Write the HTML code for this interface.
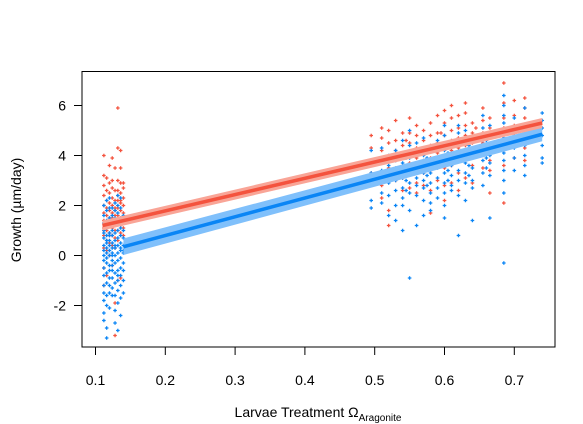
<!DOCTYPE html>
<html><head><meta charset="utf-8"><style>
html,body{margin:0;padding:0;background:#fff;}
svg{display:block;font-family:"Liberation Sans",Arial,sans-serif;}
</style></head><body>
<svg id="chart" width="583" height="424" viewBox="0 0 583 424" xmlns="http://www.w3.org/2000/svg">
<rect x="0" y="0" width="583" height="424" fill="#fff"/>
<g id="pts"></g>
<g id="fits"></g>
<rect x="82" y="71.5" width="473" height="275.5" fill="none" stroke="#000" stroke-width="1"/>
<g id="axes"></g>
<text x="318" y="417" font-size="14" text-anchor="middle">Larvae Treatment Ω<tspan font-size="10" dy="4">Aragonite</tspan></text>
<text transform="translate(21,210) rotate(-90)" font-size="14" text-anchor="middle">Growth (µm/day)</text>
</svg>
<script>
const xTicks=[0.1,0.2,0.3,0.4,0.5,0.6,0.7];
const xTickLabels=["0.1","0.2","0.3","0.4","0.5","0.6","0.7"];
const yTicks=[-2,0,2,4,6];
const yTickLabels=["-2","0","2","4","6"];
const blueX=[0.112,0.116,0.12,0.124,0.128,0.132,0.136,0.14,0.495,0.51,0.52,0.53,0.54,0.55,0.56,0.57,0.58,0.59,0.6,0.61,0.62,0.63,0.64,0.655,0.665,0.685,0.70,0.715,0.74,0.545,0.575,0.605,0.635,0.66];
const blueY=[[-2.6,-2.3,-1.8,-1.2,-0.8,-0.5,-0.2,0,0.2,0.4,0.7,1,1.3,1.6,2.0,-1.5,0.9],[-3.3,-2.9,-2.0,-1.6,-1.1,-0.7,-0.3,0.1,0.3,0.5,0.8,1.1,1.4,1.8,2.2,-0.1,0.6],[-2.1,-1.5,-1.2,-0.9,-0.4,0,0.2,0.4,0.6,0.9,1.2,1.5,1.9,2.3,-0.6,0.8],[-1.6,-1.3,-0.9,-0.6,-0.2,0.1,0.3,0.5,0.8,1.0,1.3,1.6,1.9,0.0,-0.4],[-2.7,-2.2,-1.6,-1.1,-0.7,-0.3,0,0.3,0.6,0.9,1.2,1.5,1.8,2.1,0.4],[-3.0,-1.9,-1.4,-1.0,-0.6,-0.2,0.1,0.4,0.7,1.0,1.3,1.7,2.0,2.4,-0.8],[-2.4,-1.7,-1.2,-0.8,-0.5,-0.1,0.2,0.5,0.8,1.1,1.5,1.9,2.3,0.3],[-1.5,-1.0,-0.6,-0.3,0.1,0.4,0.7,1.0,1.3,1.6,0.2],
[2.2,2.8,3.3,3.7,4.2,1.9],[2.5,3.0,3.4,3.9,4.3,2.1],[1.6,2.4,2.9,3.3,3.6,4.0],[2.0,2.6,3.0,3.2,3.5,3.8,4.2,1.4],[1.0,2.3,2.7,3.1,3.4,3.7,4.6,2.0],[-0.9,1.8,2.5,2.9,3.3,3.6,3.9,4.4,5.0],[1.2,2.4,2.8,3.1,3.4,3.7,4.1,4.5],[1.6,2.2,2.7,3.0,3.3,3.6,4.0,4.7],[2.1,2.5,2.9,3.3,3.7,4.2,1.8],[2.3,2.7,3.1,3.5,3.9,4.3,4.6],[1.5,2.0,2.5,2.9,3.3,3.6,3.9,4.2,4.8,5.2],[2.8,3.2,3.6,4.0,4.4,2.6],[0.8,2.4,3.0,3.4,3.8,4.1,4.5,4.9,5.2],[2.2,2.9,3.3,3.7,4.1,4.5,5.0],[1.4,3.0,3.5,3.9,4.3,4.7,2.7],[2.8,3.3,3.8,4.2,4.6,5.1,5.6],[3.2,3.7,4.0,4.4,4.8,5.2,1.5],[-0.3,2.5,3.0,3.4,3.8,4.1,4.4,4.7,5.0,5.3,5.6,6.0,6.4],[3.4,3.9,4.3,4.7,5.1,5.5],[3.6,4.0,4.4,4.8,5.2,5.9,3.2],[3.7,3.9,4.4,4.8,5.1,5.4,5.7],
[2.6,3.0,3.5,3.9],[2.8,3.2,3.5,3.9],[3.0,3.4,3.8,4.1],[3.2,3.6,4.0,4.4],[3.5,3.9,4.3,4.6]];
const redX=[0.112,0.116,0.12,0.124,0.128,0.132,0.136,0.14,0.495,0.51,0.52,0.53,0.54,0.55,0.56,0.57,0.58,0.59,0.6,0.61,0.62,0.63,0.64,0.655,0.665,0.685,0.70,0.715,0.545,0.595,0.645];
const redY=[[-1.2,-0.5,0.3,0.8,1.1,1.4,1.7,2.0,2.4,2.8,3.2,4.0,1.0],[-0.8,0.2,0.6,1.0,1.3,1.6,1.9,2.2,2.6,3.1,1.2],[0.0,0.5,0.9,1.2,1.5,1.8,2.1,2.5,2.9,3.6,0.8],[-0.4,0.4,0.8,1.1,1.4,1.7,2.0,2.3,2.7,3.0,3.9,1.5],[-1.9,0.3,0.7,1.0,1.3,1.6,1.9,2.2,2.6,3.5,-3.2,1.8],[5.9,4.3,3.0,2.6,2.2,1.9,1.6,1.3,1.0,0.6,-1.0,2.4],[3.5,2.9,2.5,2.1,1.8,1.5,1.2,0.9,-0.9,4.2,2.2],[2.7,2.3,2.0,1.7,1.4,1.1,0.8,2.9],
[3.3,3.8,4.3,4.8,2.9],[3.2,3.7,4.2,4.7,5.1,2.8,2.3],[3.0,3.5,3.9,4.5,5.0,1.8,1.2],[3.4,3.8,4.2,4.6,5.4,3.0],[3.1,3.6,4.0,4.4,4.9,2.6],[2.7,3.3,3.7,4.1,4.5,4.9,5.5],[2.9,3.5,3.9,4.3,4.8,5.2,2.5],[3.3,3.8,4.2,4.6,5.0,2.8],[2.6,3.4,3.9,4.4,4.8,5.3,1.7],[3.0,3.7,4.1,4.5,4.9,5.6],[2.8,3.5,4.0,4.4,4.8,5.3,5.8,2.2],[2.9,3.6,4.2,4.6,5.0,5.5,6.0],[3.3,3.9,4.3,4.7,5.1,5.6,2.6],[3.1,3.8,4.4,4.8,5.2,5.7,6.1],[3.6,4.1,4.5,4.9,5.3,2.9],[3.5,4.0,4.5,4.9,5.4,5.9],[3.8,4.3,4.7,5.1,5.5,3.4,2.5],[2.1,3.6,4.2,4.7,5.1,5.5,6.1,6.9],[3.9,4.4,4.8,5.2,5.6,6.2],[3.8,4.3,4.7,5.1,5.5,5.9,6.3,4.9],
[3.5,4.0,4.6],[3.9,4.3,4.9],[4.2,4.6,5.1]];
const blueFitX=[0.14,0.74];
const blueFitY=[0.35,4.85];
const blueFitSE=[0.33,0.28];
const redFitX=[0.11,0.74];
const redFitY=[1.2,5.3];
const redFitSE=[0.2,0.2];

const NS="http://www.w3.org/2000/svg";
function sx(v){return 95.5+(v-0.1)*698;}
function sy(v){return 255.5-v*25;}
function mk(tag,attrs,parent){const e=document.createElementNS(NS,tag);for(const k in attrs)e.setAttribute(k,attrs[k]);parent.appendChild(e);return e;}
const pts=document.getElementById('pts'),fits=document.getElementById('fits'),axes=document.getElementById('axes');
function drawPts(xs,ys,color,name){
  xs.forEach((x,i)=>{ys[i].forEach(y=>{
    const px=sx(x),py=sy(y);
    const p=mk('path',{d:`M${px-1.8},${py}H${px+1.8}M${px},${py-1.8}V${py+1.8}`,stroke:color,'stroke-width':1.3,fill:'none'},pts);
    
    
  });});
}
drawPts(redX,redY,'#f4533e','red-point');
drawPts(blueX,blueY,'#0a85f5','blue-point');
function drawFit(fx,fy,se,bandColor,lineColor,name){
  const d=`M${sx(fx[0])},${sy(fy[0]+se[0])}L${sx(fx[1])},${sy(fy[1]+se[1])}L${sx(fx[1])},${sy(fy[1]-se[1])}L${sx(fx[0])},${sy(fy[0]-se[0])}Z`;
  const b=mk('path',{d:d,fill:bandColor,stroke:'none'},fits);
  
  
  const l=mk('line',{x1:sx(fx[0]),y1:sy(fy[0]),x2:sx(fx[1]),y2:sy(fy[1]),stroke:lineColor,'stroke-width':3.5},fits);
  
  
}
drawFit(blueFitX,blueFitY,blueFitSE,'#80c0fb','#0a85f5','blue');
drawFit(redFitX,redFitY,redFitSE,'#f9a597','#f4533e','red');
xTicks.forEach((t,i)=>{
  const l=mk('line',{x1:sx(t),x2:sx(t),y1:347,y2:355,stroke:'#000'},axes);
  
  
  const tx=mk('text',{x:sx(t),y:385,'font-size':14,'text-anchor':'middle'},axes);
  tx.textContent=xTickLabels[i];
  
  
});
yTicks.forEach((t,i)=>{
  const l=mk('line',{x1:74,x2:82,y1:sy(t),y2:sy(t),stroke:'#000'},axes);
  
  
  const tx=mk('text',{x:66,y:sy(t)+5,'font-size':14,'text-anchor':'end'},axes);
  tx.textContent=yTickLabels[i];
  
  
});
</script>
</body></html>
